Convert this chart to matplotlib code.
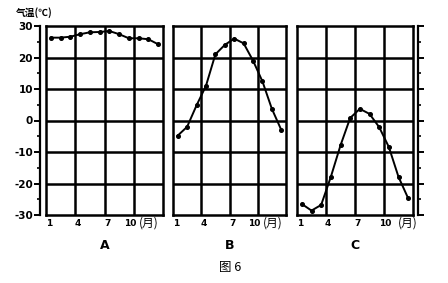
import matplotlib
matplotlib.use("Agg")
import matplotlib.pyplot as plt
import numpy as np

plt.rcParams['font.family'] = ['DejaVu Sans', 'Noto Sans CJK SC']

months = list(range(1, 13))
temp_a = [26.3, 26.3, 26.6, 27.4, 28.0, 28.1, 28.4, 27.4, 26.1, 26.1, 25.8, 24.2]
temp_b = [-4.8, -2.0, 4.8, 11.0, 21.0, 24.0, 26.0, 24.5, 19.0, 12.4, 3.7, -3.0]
temp_c = [-26.5, -28.6, -26.8, -17.9, -7.9, 0.8, 3.7, 2.1, -2.1, -8.4, -17.9, -24.7]
panel_names = ["A", "B", "C"]
xtick_vals = [1, 4, 7, 10]
xtick_labels = ["1", "4", "7", "10"]
y_major = [-30, -20, -10, 0, 10, 20, 30]
y_minor = [-25, -15, -5, 5, 15, 25]
ylabel = "气温(℃)"
xunit = "(月)"
fig_title = "图 6"

W, H = 448, 283
fig = plt.figure(figsize=(W / 100, H / 100), dpi=100)

def fx(px):
    return px / W

def fy(py):
    return 1 - py / H

top_px, bot_px = 26, 215
panels_px = [(46, 163), (173, 286), (297, 413)]
series = [temp_a, temp_b, temp_c]
cjk = ['Noto Sans CJK SC', 'DejaVu Sans']
# label offsets (style only)
tick_shift = [[-0.2, -0.2, -0.2, -0.9], [-0.2, -0.2, -0.2, -0.9], [-0.2, -0.3, -0.2, -0.4]]
unit_x = [10.0, 10.0, 10.9]

for i, ((l, r), data, name) in enumerate(zip(panels_px, series, panel_names)):
    ax = fig.add_axes([fx(l), fy(bot_px), fx(r - l), fy(top_px) - fy(bot_px)])
    ax.set_xlim(0.5, 12.5)
    ax.set_ylim(-30, 30)
    for s in ax.spines.values():
        s.set_linewidth(1.8)
    for xv in [3.5, 6.5, 9.5]:
        ax.axvline(xv, color='black', lw=1.8, zorder=1)
    for yv in [-20, -10, 0, 10, 20]:
        ax.axhline(yv, color='black', lw=1.8, zorder=1)
    ax.plot(months, data, color='black', lw=1.4, marker='o', ms=2.6, zorder=3)
    ax.set_yticks([])
    ax.set_xticks([])
    for xv, lab, sh in zip(xtick_vals, xtick_labels, tick_shift[i]):
        ax.text(xv + sh, -31.2, lab, ha='center', va='top', fontsize=6.5,
                fontweight='bold', transform=ax.transData)
    ax.text(unit_x[i], -30.4, xunit, ha='left', va='top', fontsize=8.5,
            family=cjk, transform=ax.transData, clip_on=False)
    ax.text(6.5, -37.5, name, ha='center', va='top', fontsize=9,
            fontweight='bold', transform=ax.transData)

# left scale axis
axl = fig.add_axes([fx(40), fy(bot_px), 0.0001, fy(top_px) - fy(bot_px)])
axl.set_ylim(-30, 30)
axl.set_xticks([])
for k in ['top', 'bottom', 'right']:
    axl.spines[k].set_visible(False)
axl.spines['left'].set_linewidth(1.6)
axl.set_yticks(y_major)
axl.set_yticklabels([str(v) for v in y_major], fontsize=7.5, fontweight='bold')
axl.set_yticks(y_minor, minor=True)
axl.tick_params(axis='y', which='major', length=4, width=1.4, pad=1)
axl.tick_params(axis='y', which='minor', length=2, width=1.2)

# right scale axis
axr = fig.add_axes([fx(418), fy(bot_px), 0.0001, fy(top_px) - fy(bot_px)])
axr.set_ylim(-30, 30)
axr.set_xticks([])
for k in ['top', 'bottom', 'right']:
    axr.spines[k].set_visible(False)
axr.spines['left'].set_linewidth(1.6)
axr.set_yticks(y_major)
axr.set_yticklabels([])
axr.set_yticks(y_minor, minor=True)
axr.tick_params(axis='y', which='both', direction='in', left=True)
axr.tick_params(axis='y', which='major', length=4, width=1.4)
axr.tick_params(axis='y', which='minor', length=2, width=1.2)

fig.text(fx(34), fy(13), ylabel, ha='center', va='center', fontsize=7,
         fontweight='bold', family=cjk)
fig.text(fx(230), fy(267), fig_title, ha='center', va='center', fontsize=9,
         family=cjk)

fig.savefig("out.png", dpi=100)
